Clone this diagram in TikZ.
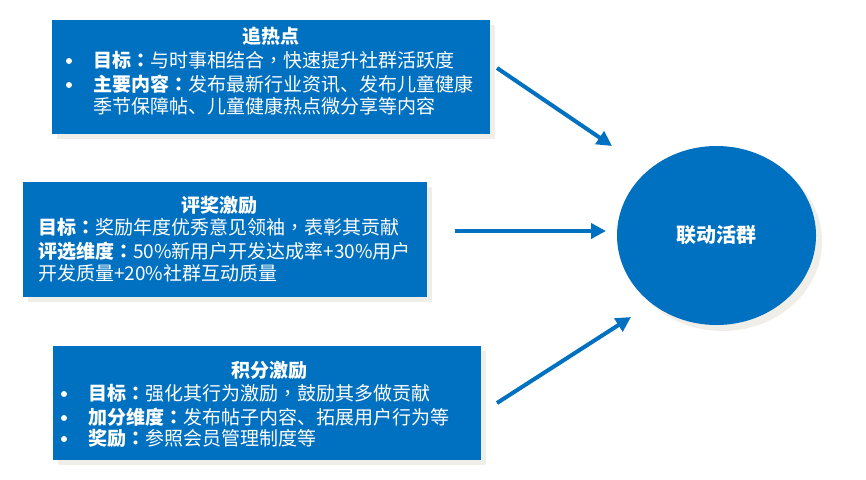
\documentclass[tikz,border=0pt]{standalone}
\usepackage{fontspec}
\newfontfamily\cjk{Noto Sans CJK SC}
\newfontfamily\cjktc{Noto Sans CJK TC}
\newcommand\pco{{\cjktc ：}}
\newcommand\pcm{{\cjktc ，}}
\usetikzlibrary{arrows.meta,shapes.geometric}
\definecolor{mainblue}{HTML}{0070C0}
\definecolor{shadowgray}{HTML}{EFEEE8}
\tikzset{
  panel/.style={fill=mainblue,draw=none,inner sep=0pt,anchor=north west},
  shade/.style={fill=shadowgray,draw=none},
  txt/.style={text=white,font=\cjk\fontsize{19}{23}\selectfont,inner sep=0pt,anchor=west},
  ttl/.style={text=white,font=\cjk\bfseries\fontsize{19}{23}\selectfont,inner sep=0pt,anchor=center},
  bul/.style={circle,fill=white,draw=none,inner sep=0pt,minimum size=6pt},
  conn/.style={draw=mainblue,line width=4pt,-{Triangle[length=15pt,width=15pt]}},
}
\begin{document}
\begin{tikzpicture}[x=1pt,y=-1pt]
\useasboundingbox (0,0) rectangle (866,479);
% shadows
\fill[shade] (57,25) rectangle (495,139);
\fill[shade] (28,187) rectangle (432,302);
\fill[shade] (58,351) rectangle (486,465);
\fill[shade] (722.5,241.5) ellipse [x radius=99.5, y radius=89.5];
% boxes
\node[panel,minimum width=438pt,minimum height=114pt] (b1) at (52,20) {};
\node[panel,minimum width=404pt,minimum height=115pt] (b2) at (23,182) {};
\node[panel,minimum width=428pt,minimum height=114pt] (b3) at (53,346) {};
\node[ellipse,fill=mainblue,minimum width=199pt,minimum height=179pt,inner sep=0pt,
  text=white,font=\cjk\bfseries\fontsize{20}{24}\selectfont] (c) at (716.5,235.5) {联动活群};
% box 1 text
\node[ttl] (t1) at (271,36) {追热点};
\node[bul] (u11) at (69,61) {};
\node[txt] (l11) at (93,60) {\textbf{目标\pco}与时事相结合\pcm 快速提升社群活跃度};
\node[bul] (u12) at (69,85) {};
\node[txt] (l12) at (93,84) {\textbf{主要内容\pco}发布最新行业资讯、发布儿童健康};
\node[txt] (l13) at (93,106) {季节保障帖、儿童健康热点微分享等内容};
% box 2 text
\node[ttl] (t2) at (219,205) {评奖激励};
\node[txt] (l21) at (38,227) {\textbf{目标\pco}奖励年度优秀意见领袖\pcm 表彰其贡献};
\node[txt] (l22) at (38,251) {\textbf{评选维度\pco}50\%新用户开发达成率+30\%用户};
\node[txt] (l23) at (38,273) {开发质量+20\%社群互动质量};
% box 3 text
\node[ttl] (t3) at (269,370) {积分激励};
\node[bul] (u31) at (64,394) {};
\node[txt] (l31) at (88,393) {\textbf{目标\pco}强化其行为激励\pcm 鼓励其多做贡献};
\node[bul] (u32) at (64,418) {};
\node[txt] (l32) at (88,417) {\textbf{加分维度\pco}发布帖子内容、拓展用户行为等};
\node[bul] (u33) at (64,439) {};
\node[txt] (l33) at (88,438) {\textbf{奖励\pco}参照会员管理制度等};
% connectors
\coordinate (a1s) at (497,68);
\coordinate (a1e) at (612,146);
\coordinate (a2s) at (455,231);
\coordinate (a2e) at (606,231);
\coordinate (a3s) at (497,403);
\coordinate (a3e) at (631,317);
\draw[conn] (a1s) -- (a1e);
\draw[conn] (a2s) -- (a2e);
\draw[conn] (a3s) -- (a3e);
\end{tikzpicture}
\end{document}
